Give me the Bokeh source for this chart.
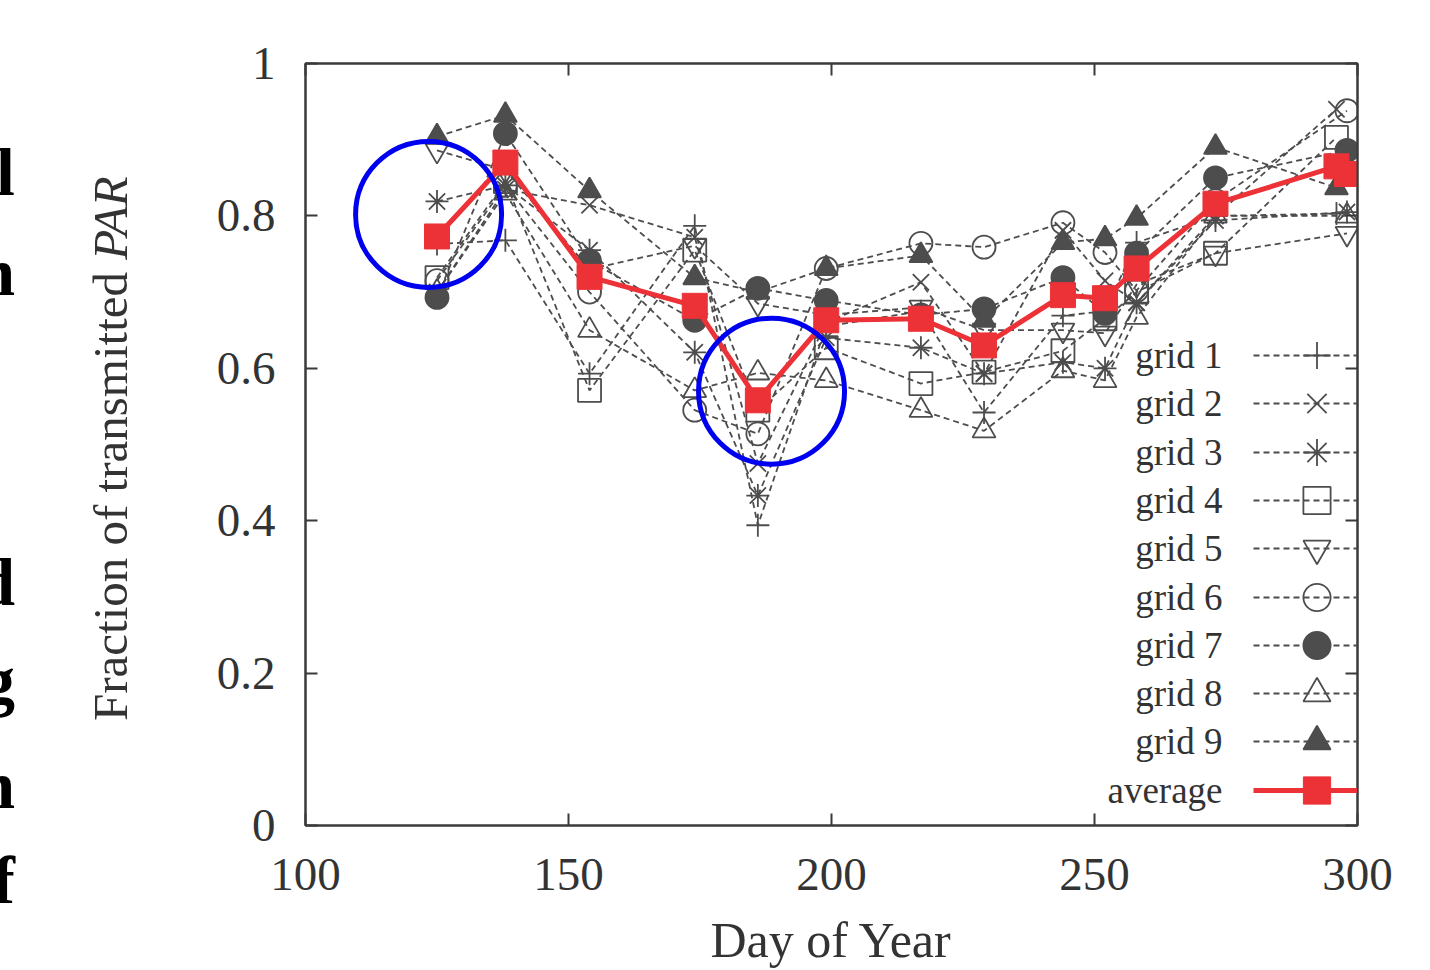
from bokeh.plotting import figure
from bokeh.models import (Range1d, FixedTicker, LinearAxis, Label, Legend, LegendItem,
                          CustomJSTickFormatter, Div)
from bokeh.layouts import row
from bokeh.embed import file_html
from bokeh.resources import INLINE

# ---------------- data ----------------
days = [125, 138, 154, 174, 186, 199, 217, 229, 244, 252, 258, 273]
grid_last_day = [296, 296, 298, 296, 298, 298, 298, 298, 296]

grid1 = [0.763, 0.768, 0.593, 0.787, 0.394, 0.655, 0.675, 0.542, 0.669, 0.675, 0.765, 0.800, 0.803]
grid2 = [0.700, 0.835, 0.814, 0.772, 0.475, 0.660, 0.713, 0.593, 0.781, 0.715, 0.686, 0.800, 0.940]
grid3 = [0.819, 0.840, 0.755, 0.621, 0.433, 0.640, 0.627, 0.593, 0.608, 0.600, 0.686, 0.794, 0.805]
grid4 = [0.719, 0.845, 0.571, 0.755, 0.545, 0.627, 0.580, 0.595, 0.623, 0.665, 0.700, 0.751, 0.903]
grid5 = [0.886, 0.860, 0.730, 0.761, 0.685, 0.670, 0.680, 0.650, 0.650, 0.646, 0.710, 0.751, 0.777]
grid6 = [0.715, 0.840, 0.700, 0.545, 0.514, 0.731, 0.764, 0.759, 0.791, 0.752, 0.702, 0.820, 0.938]
grid7 = [0.693, 0.908, 0.741, 0.663, 0.705, 0.689, 0.670, 0.678, 0.719, 0.672, 0.751, 0.850, 0.886]
grid8 = [0.700, 0.830, 0.650, 0.571, 0.594, 0.584, 0.545, 0.518, 0.597, 0.584, 0.667, 0.800, 0.800]
grid9 = [0.904, 0.932, 0.833, 0.719, 0.700, 0.731, 0.748, 0.663, 0.765, 0.770, 0.797, 0.890, 0.837]

avg_days = [125, 138, 154, 174, 186, 199, 217, 229, 244, 252, 258, 273, 296, 298]
average = [0.773, 0.870, 0.720, 0.682, 0.558, 0.663, 0.665, 0.630, 0.696, 0.692, 0.731, 0.816, 0.865, 0.855]

grid_names = ["grid 1", "grid 2", "grid 3", "grid 4", "grid 5", "grid 6", "grid 7", "grid 8", "grid 9"]
grid_markers = ["cross", "x", "asterisk", "square", "inverted_triangle", "circle", "circle", "triangle", "triangle"]
grid_filled = [False, False, False, False, False, False, True, False, True]
avg_name = "average"

x_ticks = [100, 150, 200, 250, 300]
y_ticks = [0, 0.2, 0.4, 0.6, 0.8, 1]
y_tick_labels = ["0", "0.2", "0.4", "0.6", "0.8", "1"]

x_title = "Day of Year"
y_title_main = "Fraction of transmitted "
y_title_italic = "PAR"

# annotation rings (day, fraction)
ring_days = [123.4, 188.6]
ring_vals = [0.802, 0.570]

# cut-off letters of neighbouring text at the left edge
margin_letters = ["l", "n", "d", "g", "n", "f"]

# ---------------- layout / styling ----------------
W, H = 1430, 970
DW = 140                                 # width of the left text strip
FL, FR, FT, FB = 305, 1357, 63, 825      # frame edges in page px
SERIF = "Liberation Serif"
GRAY = "#4d4d4d"
AXC = "#3a3a3a"
TXT = "#333333"
RED = "#ec3237"

p = figure(width=W - DW, height=H, x_range=Range1d(100, 300), y_range=Range1d(0, 1),
           output_backend="svg", toolbar_location=None,
           min_border_left=FL - DW, min_border_right=W - FR,
           min_border_top=FT, min_border_bottom=H - FB)
p.grid.visible = False
p.outline_line_color = AXC
p.outline_line_width = 2
p.background_fill_color = "white"
p.border_fill_color = "white"

blank = CustomJSTickFormatter(code="return ''")

def style_axis(ax, show_labels):
    ax.major_tick_in = 12
    ax.major_tick_out = 0
    ax.minor_tick_in = 0
    ax.minor_tick_out = 0
    ax.axis_line_color = AXC
    ax.axis_line_width = 2
    ax.major_tick_line_color = AXC
    ax.major_tick_line_width = 2
    ax.major_label_text_font = SERIF
    ax.major_label_text_font_size = "47px"
    ax.major_label_text_color = TXT
    if not show_labels:
        ax.formatter = blank
        ax.major_label_standoff = 0

xa = p.xaxis[0]
xa.ticker = FixedTicker(ticks=x_ticks)
style_axis(xa, True)
xa.major_label_standoff = 33
xa.axis_label = x_title
xa.axis_label_text_font = SERIF
xa.axis_label_text_font_style = "normal"
xa.axis_label_text_font_size = "50px"
xa.axis_label_text_color = TXT
xa.axis_label_standoff = 19

ya = p.yaxis[0]
ya.ticker = FixedTicker(ticks=y_ticks)
ya.major_label_overrides = {v: s for v, s in zip(y_ticks, y_tick_labels)}
style_axis(ya, True)
ya.major_label_standoff = 30

top = LinearAxis(ticker=FixedTicker(ticks=x_ticks))
style_axis(top, False)
p.add_layout(top, "above")
right = LinearAxis(ticker=FixedTicker(ticks=y_ticks))
style_axis(right, False)
p.add_layout(right, "right")

# ---------------- series ----------------
grids = [grid1, grid2, grid3, grid4, grid5, grid6, grid7, grid8, grid9]
legend_renderers = []
for name, vals, last, mk, filled in zip(grid_names, grids, grid_last_day, grid_markers, grid_filled):
    xs = days + [last]
    rl = p.line(xs, vals, line_color=GRAY, line_width=1.8, line_dash="6 4")
    rs = p.scatter(xs, vals, marker=mk, size=23, line_color=GRAY, line_width=1.8,
                   fill_color=GRAY if filled else None)
    legend_renderers.append([rl, rs])

ra = p.line(avg_days, average, line_color=RED, line_width=5)
rs = p.scatter(avg_days, average, marker="square", size=25, line_color=RED, fill_color=RED)
legend_renderers.append([ra, rs])

# annotation rings
p.scatter(ring_days, ring_vals, marker="circle", size=146, fill_color=None,
          line_color="#0000f0", line_width=5)

# ---------------- legend: one small legend per row ----------------
ROW = 48.3
GH = 68
for i, (name, rends) in enumerate(zip(grid_names + [avg_name], legend_renderers)):
    cy = 355 + ROW * i
    leg = Legend(items=[LegendItem(label="", renderers=rends)],
                 location=(1253 - FL, int(round(FB - cy - GH / 2))),
                 glyph_width=127, glyph_height=GH, padding=0, margin=0, spacing=0,
                 label_standoff=0, label_width=0, label_height=0,
                 background_fill_alpha=0, border_line_alpha=0)
    p.add_layout(leg)
    p.add_layout(Label(x=100, y=0, x_offset=1222 - FL, y_offset=FB - cy, text=name,
                       text_align="right", text_baseline="middle",
                       text_font=SERIF, text_font_size="37px", text_color=TXT))

# ---------------- left strip: cut-off letters and y-axis title ----------------
letter_baselines = [195, 295, 605, 704, 808, 903]
LS = 68
parts = []
for ch, by in zip(margin_letters, letter_baselines):
    parts.append(
        f'<span style="position:absolute;right:{DW - 15}px;top:{by - 0.8375 * LS:.1f}px;'
        f'font-size:{LS}px;line-height:1;font-weight:bold;color:#000;white-space:nowrap;">{ch}</span>')
TS = 49
parts.append(
    f'<div style="position:absolute;left:{127 - 0.8375 * TS:.1f}px;top:721px;'
    f'transform-origin:0 0;transform:rotate(-90deg);white-space:nowrap;'
    f'font-size:{TS}px;line-height:1;color:{TXT};">{y_title_main}<i>{y_title_italic}</i></div>')
html = (f'<div style="position:relative;width:{DW}px;height:{H}px;overflow:hidden;'
        f'font-family:\'{SERIF}\',serif;background:#fff;">' + "".join(parts) + '</div>')
strip = Div(text=html, width=DW, height=H, margin=0)

layout = row(strip, p)
open("out.html", "w").write(file_html(layout, INLINE))
